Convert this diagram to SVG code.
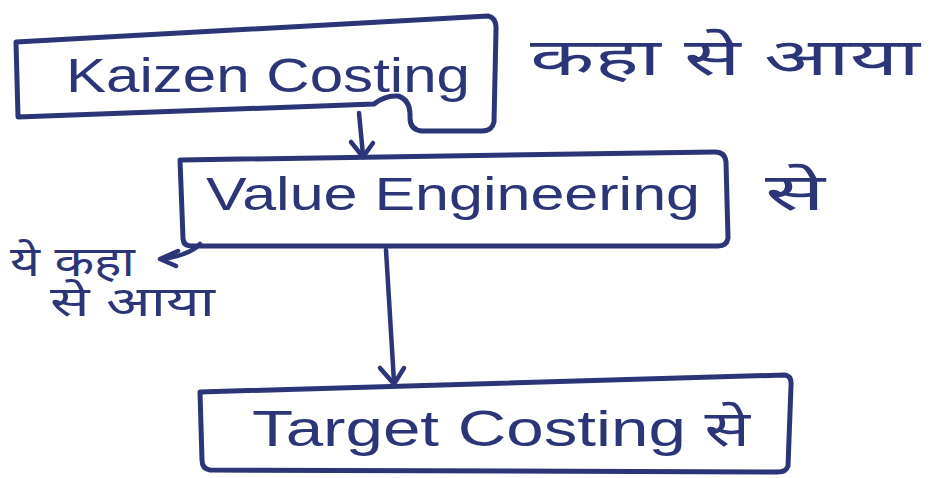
<svg xmlns="http://www.w3.org/2000/svg" width="935" height="478" viewBox="0 0 935 478">
<style>
.box{fill:none;stroke:#2b3577;stroke-width:5;stroke-linejoin:round;stroke-linecap:round}
.ln{fill:none;stroke:#2b3577;stroke-width:4.5;stroke-linecap:round;stroke-linejoin:round}
.t{fill:#2b3577;font-family:"Liberation Sans","Noto Sans","Noto Sans Devanagari",sans-serif}
</style>
<rect width="935" height="478" fill="#ffffff"/>
<g id="connectors">
<path class="ln" d="M359 113 L363 155"/>
<path class="ln" d="M351 142 L363 157 L373 143"/>
<path class="ln" d="M200 244 Q190 255 162 259"/>
<path class="ln" d="M178 251 L160 259 L176 266"/>
<path class="ln" d="M386 250 L394 382"/>
<path class="ln" d="M380 368 L394 384 L404 368"/>
</g>
<g id="kaizen">
<path class="box" d="M16 42 L488 16 Q497 18 496 30 L494 122 Q492 131 482 131 L422 131 Q410 130 410 118 Q411 100 398 96 Q385 95 374 104 L18 117 Z"/>
<text class="t" x="66" y="92" font-size="48" textLength="404" lengthAdjust="spacingAndGlyphs">Kaizen Costing</text>
</g>
<g id="kaizen-note">
<text class="t" x="530" y="75" font-size="52" textLength="390" lengthAdjust="spacingAndGlyphs">कहा से आया</text>
</g>
<g id="value">
<path class="box" d="M180 160 L715 152 Q725 152 726 162 L728 238 Q727 246 718 246 L192 246 Q183 246 183 238 Z"/>
<text class="t" x="206" y="210" font-size="46" textLength="494" lengthAdjust="spacingAndGlyphs">Value Engineering</text>
</g>
<g id="value-note">
<text class="t" x="765" y="210" font-size="52" textLength="60" lengthAdjust="spacingAndGlyphs">से</text>
</g>
<g id="left-note">
<text class="t" x="10" y="276" font-size="42" textLength="125" lengthAdjust="spacingAndGlyphs">ये कहा</text>
<text class="t" x="50" y="316" font-size="42" textLength="165" lengthAdjust="spacingAndGlyphs">से आया</text>
</g>
<g id="target">
<path class="box" d="M200 392 L785 375 Q792 376 791 386 L788 466 Q786 472 778 472 L210 470 Q202 469 202 460 Z"/>
<text class="t" x="252" y="446" font-size="50" textLength="498" lengthAdjust="spacingAndGlyphs">Target Costing से</text>
</g>
</svg>
